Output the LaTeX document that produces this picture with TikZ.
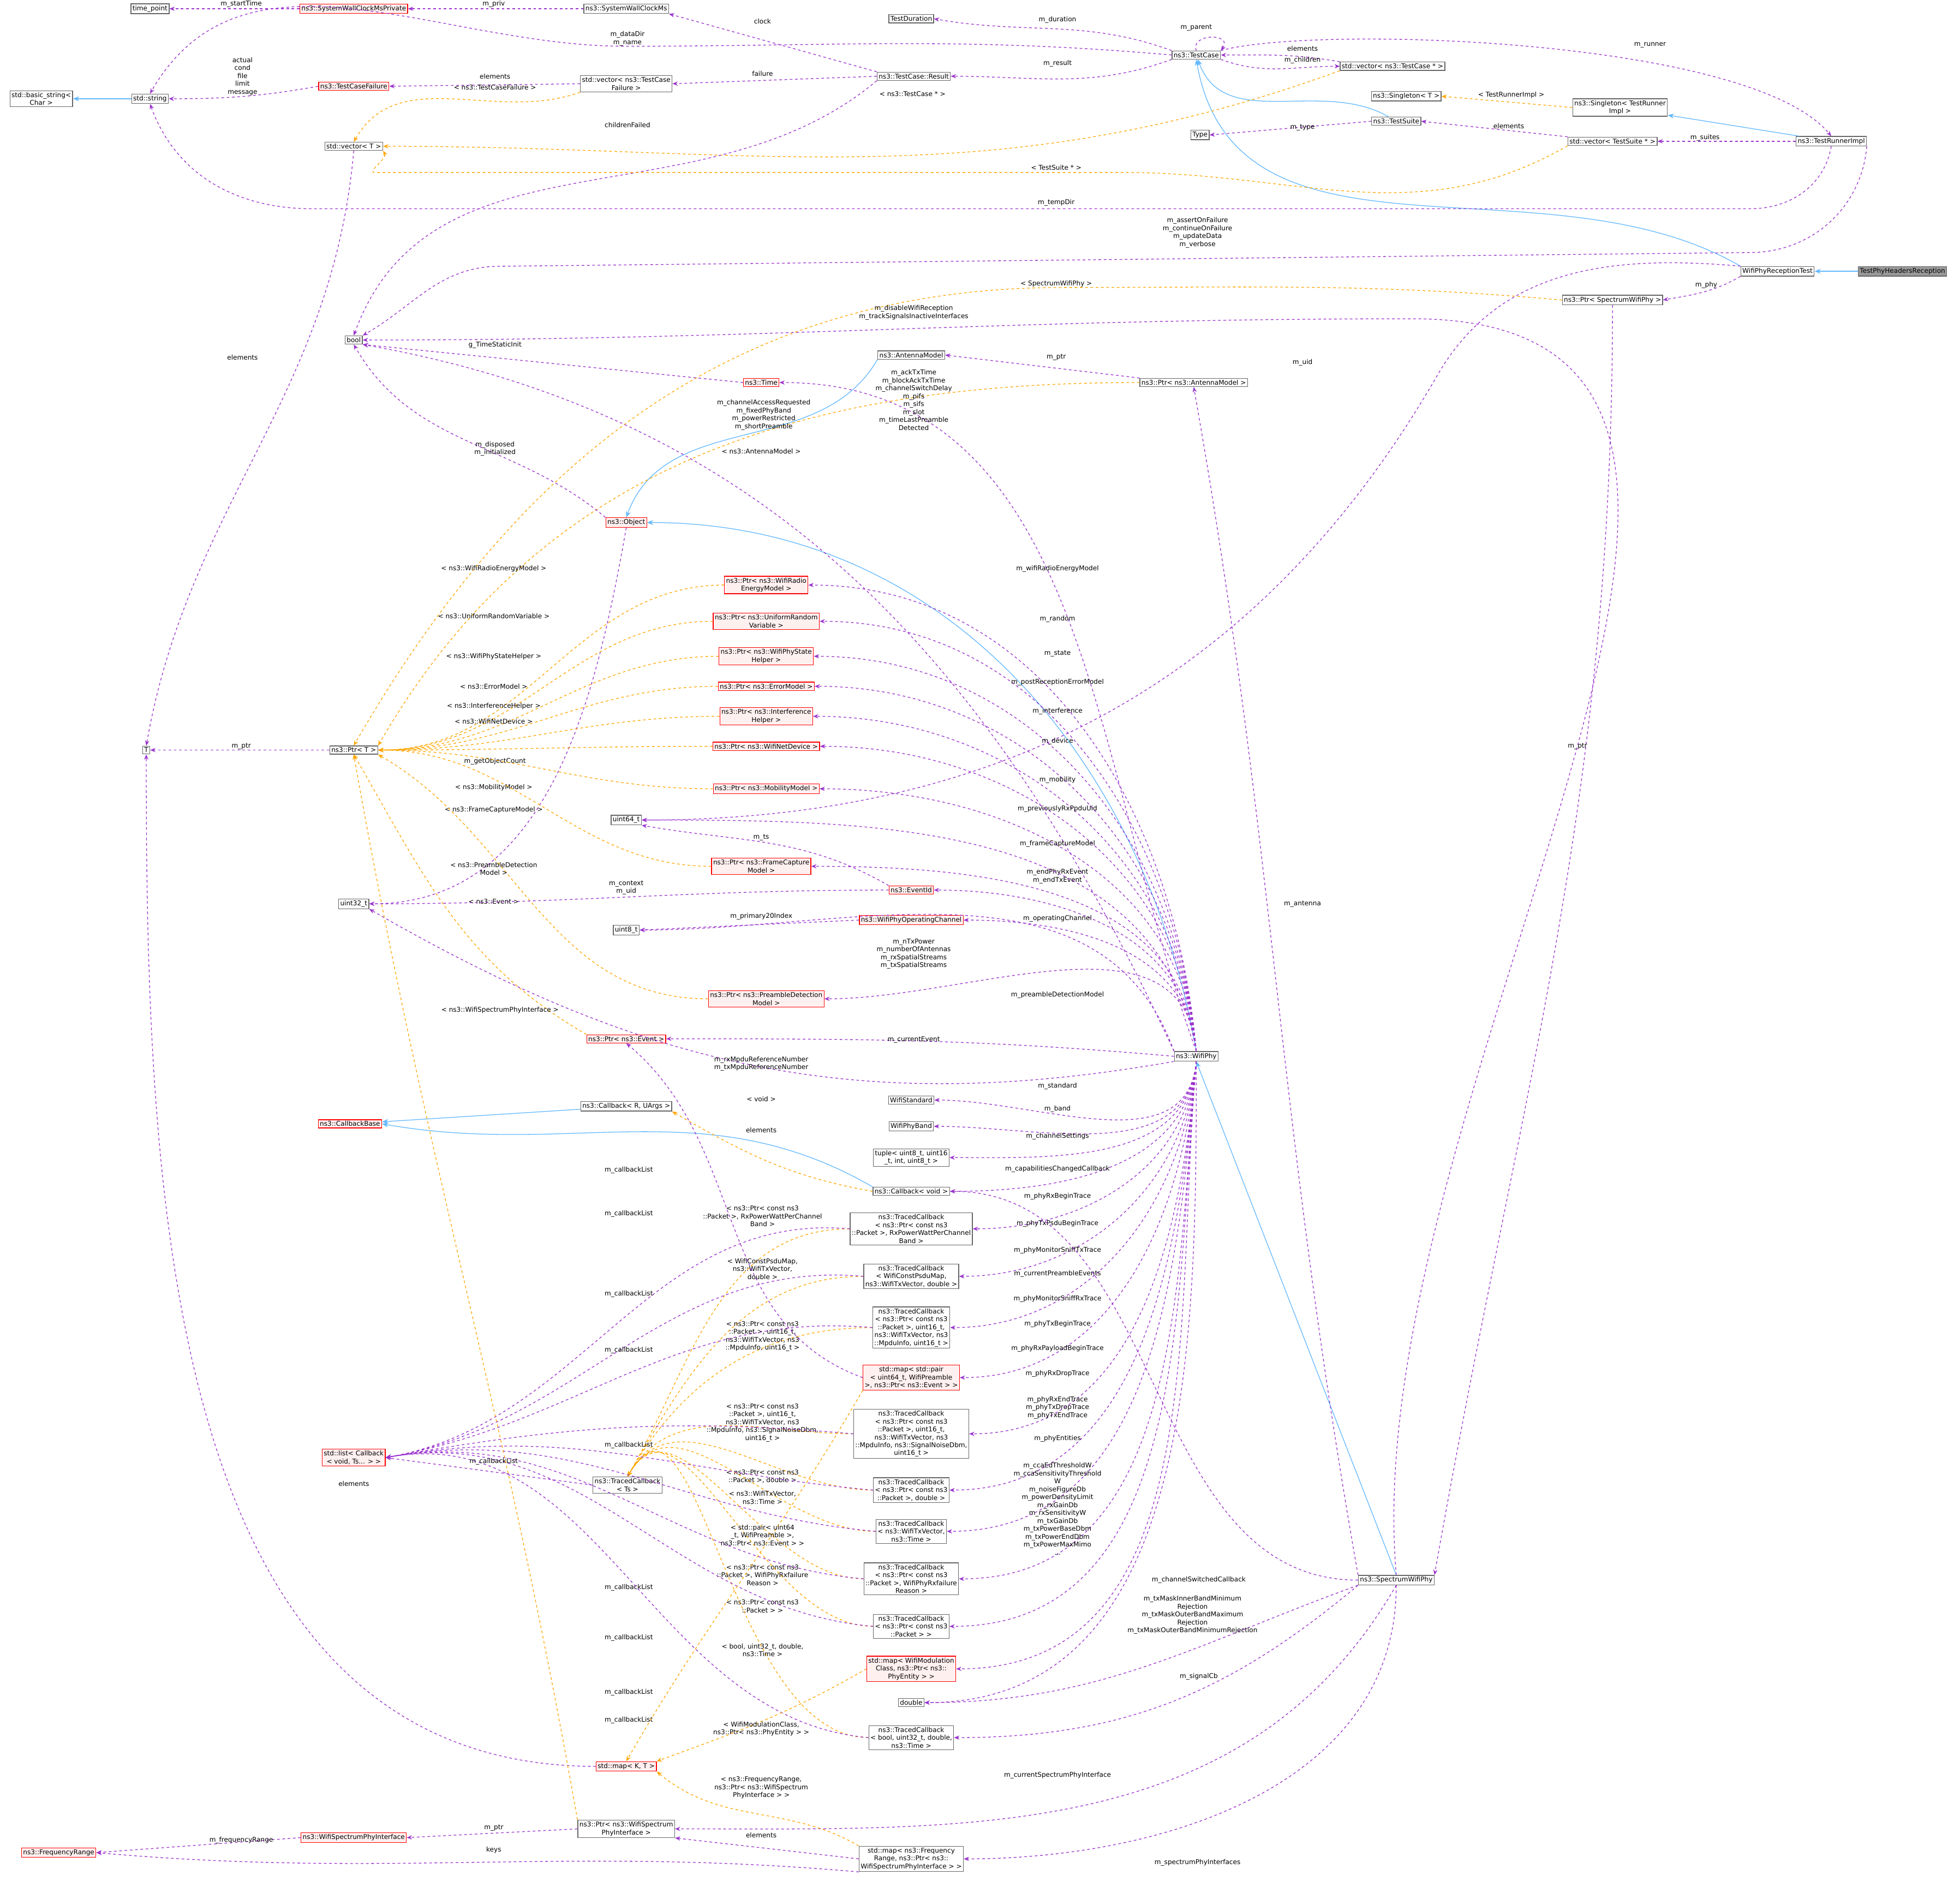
\documentclass[tikz,border=0pt]{standalone}
\usepackage{fontspec}
\setmainfont{DejaVu Sans}
\usetikzlibrary{arrows.meta,positioning}
\definecolor{edgepurple}{HTML}{9A32CD}
\definecolor{edgeorange}{HTML}{FFA500}
\definecolor{edgeblue}{HTML}{63B8FF}
\definecolor{redfill}{HTML}{FFF0F0}
\tikzset{
  cls/.style={draw=black!60, fill=white, align=center, inner sep=0.9pt, line width=0.4pt, font=\fontsize{3.75}{4.5}\selectfont},
  rcls/.style={cls, draw=red, fill=redfill},
  gcls/.style={cls, fill=black!40},
  pe/.style={edgepurple, dashed, dash pattern=on 1.5pt off 1.5pt, line width=0.4pt, -{Stealth[length=3pt,width=2.4pt]}},
  oe/.style={edgeorange, dashed, dash pattern=on 1.5pt off 1.5pt, line width=0.4pt, -{Stealth[length=3pt,width=2.4pt]}},
  be/.style={edgeblue, line width=0.4pt, -{Stealth[length=3.5pt,width=2.8pt]}},
  lbl/.style={align=center, inner sep=0pt, text=black, font=\fontsize{3.75}{4.5}\selectfont}
}
\begin{document}
\begin{tikzpicture}[x=0.025cm, y=-0.025cm]
  \useasboundingbox (0,0) rectangle (1568,1519);
  % Define nodes
  \node[cls] (timepoint) at (120,7) {time\_point};
  \node[rcls] (swcpriv) at (283,7) {ns3::SystemWallClockMsPrivate};
  \node[cls] (swc) at (501,7) {ns3::SystemWallClockMs};
  \node[cls] (duration) at (729,15) {TestDuration};
  \node[cls] (testcase) at (957,44) {ns3::TestCase};
  \node[cls] (vectc) at (1114,53) {std::vector< ns3::TestCase * >};
  \node[cls] (result) at (731,61) {ns3::TestCase::Result};
  \node[cls] (basicstr) at (33,79) {std::basic\_string<\\Char >};
  \node[cls] (string) at (120,79) {std::string};
  \node[rcls] (tcfail) at (283,69) {ns3::TestCaseFailure};
  \node[cls] (vectcf) at (501,67) {std::vector< ns3::TestCase\\Failure >};
  \node[cls] (vect) at (283,117) {std::vector< T >};
  \node[cls] (singt) at (1125,77) {ns3::Singleton< T >};
  \node[cls] (singtri) at (1296,86) {ns3::Singleton< TestRunner\\Impl >};
  \node[cls] (suite) at (1117,97) {ns3::TestSuite};
  \node[cls] (type) at (960,108) {Type};
  \node[cls] (vects) at (1290,113) {std::vector< TestSuite * >};
  \node[cls] (runner) at (1465,113) {ns3::TestRunnerImpl};
  \node[cls] (wprt) at (1422,217) {WifiPhyReceptionTest};
  \node[gcls] (tphr) at (1522,217) {TestPhyHeadersReception};
  \node[cls] (ptrswp) at (1290,240) {ns3::Ptr< SpectrumWifiPhy >};
  \node[cls] (bool) at (283,272) {bool};
  \node[cls] (antenna) at (729,284) {ns3::AntennaModel};
  \node[cls] (ptrant) at (955,306) {ns3::Ptr< ns3::AntennaModel >};
  \node[rcls] (time) at (609,306) {ns3::Time};
  \node[rcls] (object) at (501,418) {ns3::Object};
  \node[rcls] (ptrenergy) at (613,468) {ns3::Ptr< ns3::WifiRadio\\EnergyModel >};
  \node[rcls] (ptrrandom) at (613,497) {ns3::Ptr< ns3::UniformRandom\\Variable >};
  \node[rcls] (ptrstate) at (613,525) {ns3::Ptr< ns3::WifiPhyState\\Helper >};
  \node[rcls] (ptrerror) at (613,549) {ns3::Ptr< ns3::ErrorModel >};
  \node[rcls] (ptrinterf) at (613,573) {ns3::Ptr< ns3::Interference\\Helper >};
  \node[rcls] (ptrdevice) at (613,597) {ns3::Ptr< ns3::WifiNetDevice >};
  \node[rcls] (ptrmobility) at (613,631) {ns3::Ptr< ns3::MobilityModel >};
  \node[cls] (T) at (117,600) {T};
  \node[cls] (ptrt) at (283,600) {ns3::Ptr< T >};
  \node[cls] (uint64) at (501,656) {uint64\_t};
  \node[rcls] (ptrcapture) at (609,693) {ns3::Ptr< ns3::FrameCapture\\Model >};
  \node[rcls] (eventid) at (729,712) {ns3::EventId};
  \node[cls] (uint32) at (283,723) {uint32\_t};
  \node[cls] (uint8) at (501,744) {uint8\_t};
  \node[rcls] (opchan) at (729,736) {ns3::WifiPhyOperatingChannel};
  \node[rcls] (ptrpreamble) at (613,799) {ns3::Ptr< ns3::PreambleDetection\\Model >};
  \node[rcls] (ptrevent) at (501,831) {ns3::Ptr< ns3::Event >};
  \node[cls] (wifiphy) at (957,845) {ns3::WifiPhy};
  \node[rcls] (cbbase) at (280,899) {ns3::CallbackBase};
  \node[cls] (cbrargs) at (501,885) {ns3::Callback< R, UArgs >};
  \node[cls] (standard) at (729,880) {WifiStandard};
  \node[cls] (band) at (729,901) {WifiPhyBand};
  \node[cls] (tuple) at (729,926) {tuple< uint8\_t, uint16\\\_t, int, uint8\_t >};
  \node[cls] (cbvoid) at (729,953) {ns3::Callback< void >};
  \node[cls] (tcrxpower) at (729,983) {ns3::TracedCallback\\< ns3::Ptr< const ns3\\::Packet >, RxPowerWattPerChannel\\Band >};
  \node[cls] (tcpsdu) at (729,1021) {ns3::TracedCallback\\< WifiConstPsduMap,\\ns3::WifiTxVector, double >};
  \node[cls] (tcmpdu) at (729,1062) {ns3::TracedCallback\\< ns3::Ptr< const ns3\\::Packet >, uint16\_t,\\ns3::WifiTxVector, ns3\\::MpduInfo, uint16\_t >};
  \node[rcls] (mappair) at (729,1102) {std::map< std::pair\\< uint64\_t, WifiPreamble\\>, ns3::Ptr< ns3::Event > >};
  \node[cls] (tcsignal) at (729,1147) {ns3::TracedCallback\\< ns3::Ptr< const ns3\\::Packet >, uint16\_t,\\ns3::WifiTxVector, ns3\\::MpduInfo, ns3::SignalNoiseDbm,\\uint16\_t >};
  \node[rcls] (cblist) at (283,1166) {std::list< Callback\\< void, Ts... > >};
  \node[cls] (tcts) at (502,1188) {ns3::TracedCallback\\< Ts >};
  \node[cls] (tcpktdbl) at (729,1192) {ns3::TracedCallback\\< ns3::Ptr< const ns3\\::Packet >, double >};
  \node[cls] (tctxvec) at (729,1225) {ns3::TracedCallback\\< ns3::WifiTxVector,\\ns3::Time >};
  \node[cls] (swp) at (1117,1264) {ns3::SpectrumWifiPhy};
  \node[cls] (tcrxfail) at (729,1263) {ns3::TracedCallback\\< ns3::Ptr< const ns3\\::Packet >, WifiPhyRxfailure\\Reason >};
  \node[cls] (tcpkt) at (729,1301) {ns3::TracedCallback\\< ns3::Ptr< const ns3\\::Packet > >};
  \node[rcls] (mapmod) at (729,1335) {std::map< WifiModulation\\Class, ns3::Ptr< ns3::\\PhyEntity > >};
  \node[cls] (double) at (729,1362) {double};
  \node[cls] (tcbool) at (729,1390) {ns3::TracedCallback\\< bool, uint32\_t, double,\\ns3::Time >};
  \node[rcls] (mapkt) at (501,1413) {std::map< K, T >};
  \node[cls] (ptrwspi) at (501,1463) {ns3::Ptr< ns3::WifiSpectrum\\PhyInterface >};
  \node[rcls] (wspi) at (283,1470) {ns3::WifiSpectrumPhyInterface};
  \node[rcls] (freqrange) at (47,1482) {ns3::FrequencyRange};
  \node[cls] (mapfreq) at (729,1487) {std::map< ns3::Frequency\\Range, ns3::Ptr< ns3::\\WifiSpectrumPhyInterface > >};

  % Inheritance
  \draw[be] (string) -- (basicstr);
  \draw[be] (runner) -- (singtri);
  \draw[be] (suite) to[out=150,in=-70] (testcase);
  \draw[be] (wprt.north west) to[out=150,in=-80] (testcase.south);
  \draw[be] (tphr) -- (wprt);
  \draw[be] (antenna.south west) to[out=-120,in=70] (object.north);
  \draw[be] (wifiphy.north) to[out=100,in=0] (object.east);
  \draw[be] (swp.north) -- (wifiphy.south);
  \draw[be] (cbrargs) -- (cbbase);
  \draw[be] (cbvoid.north west) to[out=150,in=-10] (cbbase.east);

  % Test framework members
  \draw[pe] (swcpriv) -- (timepoint);
  \node[lbl] at (193,3) {m\_startTime};
  \draw[pe] (swc) -- (swcpriv);
  \node[lbl] at (395,3) {m\_priv};
  \draw[pe] (result.north west) -- (swc.south east);
  \node[lbl] at (610,17) {clock};
  \draw[pe] (testcase.north west) to[out=160,in=-10] (duration.east);
  \node[lbl] at (846,16) {m\_duration};
  \draw[pe] (testcase.north) .. controls +(-5,-14) and +(10,-14) .. (testcase.north east);
  \node[lbl] at (957,22) {m\_parent};
  \draw[pe] (testcase.west) to[out=175,in=0] (500,37) to[out=180,in=60] (string.north);
  \node[lbl] at (502,31) {m\_dataDir\\m\_name};
  \draw[pe] (testcase.south west) to[out=-160,in=0] (result.east);
  \node[lbl] at (846,51) {m\_result};
  \draw[pe] (testcase.south east) to[out=-20,in=180] (vectc.west);
  \draw[pe] (vectc.north west) to[out=170,in=0] (testcase.east);
  \node[lbl] at (1042,39) {elements};
  \node[lbl] at (1042,48) {m\_children};
  \draw[pe] (testcase.north east) .. controls (1050,20) and (1400,30) .. (runner.north);
  \node[lbl] at (1320,36) {m\_runner};
  \draw[oe] (vectc.south west) to[out=-160,in=0] (vect.east);
  \node[lbl] at (730,75) {< ns3::TestCase * >};
  \draw[pe] (result.west) -- (vectcf.east);
  \node[lbl] at (610,59) {failure};
  \draw[pe] (result.south west) to[out=-140,in=70] (bool.north);
  \node[lbl] at (502,100) {childrenFailed};
  \draw[pe] (vectcf.west) -- (tcfail.east);
  \node[lbl] at (396,61) {elements};
  \node[lbl] at (396,70) {< ns3::TestCaseFailure >};
  \draw[oe] (vectcf.south west) to[out=-160,in=60] (vect.north);
  \draw[pe] (tcfail.west) to[out=-170,in=0] (string.east);
  \node[lbl] at (194,61) {actual\\cond\\file\\limit\\message};
  \draw[pe] (vect.south) to[out=-95,in=80] (T.north);
  \node[lbl] at (194,286) {elements};
  \draw[oe] (singtri.west) -- (singt.east);
  \node[lbl] at (1209,76) {< TestRunnerImpl >};
  \draw[pe] (runner) -- (vects);
  \node[lbl] at (1364,110) {m\_suites};
  \draw[pe] (vects.north west) -- (suite.east);
  \node[lbl] at (1207,101) {elements};
  \draw[oe] (vects.south west) to[out=-150,in=0] (900,138) -- (300,138) to[out=180,in=-60] (vect.south east);
  \node[lbl] at (845,134) {< TestSuite * >};
  \draw[pe] (suite.west) -- (type.east);
  \node[lbl] at (1042,102) {m\_type};
  \draw[pe] (runner.south) to[out=-100,in=0] (1400,167) -- (250,167) to[out=180,in=-70] (string.south);
  \node[lbl] at (845,162) {m\_tempDir};
  \draw[pe] (runner.south east) to[out=-95,in=0] (1400,202) -- (400,213) to[out=180,in=30] (bool.north east);
  \node[lbl] at (958,186) {m\_assertOnFailure\\m\_continueOnFailure\\m\_updateData\\m\_verbose};

  % WifiPhyReceptionTest
  \draw[pe] (wprt.south west) to[out=-150,in=10] (ptrswp.east);
  \node[lbl] at (1365,228) {m\_phy};
  \draw[pe] (wprt.north west) to[out=175,in=60] (1150,300) to[out=240,in=0] (uint64.east);
  \node[lbl] at (1042,290) {m\_uid};
  \draw[oe] (ptrswp.west) to[out=175,in=0] (850,230) to[out=180,in=60] (ptrt.north);
  \node[lbl] at (845,227) {< SpectrumWifiPhy >};
  \draw[pe] (ptrswp.south) to[out=-90,in=80] (swp.north east);
  \node[lbl] at (1262,597) {m\_ptr};
  \draw[pe] (swp.north) to[out=95,in=0] (1130,255) to[out=180,in=0] (bool.east);
  \node[lbl] at (731,250) {m\_disableWifiReception\\m\_trackSignalsInactiveInterfaces};
  \draw[pe] (swp.north west) to[out=100,in=-80] (ptrant.south);
  \node[lbl] at (1042,723) {m\_antenna};
  \draw[pe] (ptrant.north west) -- (antenna.east);
  \node[lbl] at (845,286) {m\_ptr};
  \draw[oe] (ptrant.west) to[out=180,in=60] (ptrt.north east);
  \node[lbl] at (609,361) {< ns3::AntennaModel >};
  \draw[pe] (time.west) -- (bool.south east);
  \node[lbl] at (396,276) {g\_TimeStaticInit};
  \draw[pe] (wifiphy.north) to[out=110,in=0] (time.east);
  \node[lbl] at (731,320) {m\_ackTxTime\\m\_blockAckTxTime\\m\_channelSwitchDelay\\m\_pifs\\m\_sifs\\m\_slot\\m\_timeLastPreamble\\Detected};
  \draw[pe] (wifiphy.north west) to[out=115,in=-10] (bool.south east);
  \node[lbl] at (611,332) {m\_channelAccessRequested\\m\_fixedPhyBand\\m\_powerRestricted\\m\_shortPreamble};
  \draw[pe] (object.north west) to[out=140,in=-60] (bool.south);
  \node[lbl] at (396,359) {m\_disposed\\m\_initialized};
  \draw[pe] (object.south) to[out=-100,in=0] (uint32.east);
  \node[lbl] at (396,609) {m\_getObjectCount};

  % Ptr members of WifiPhy
  \foreach \p/\lab/\y in {ptrenergy/m\_wifiRadioEnergyModel/455, ptrrandom/m\_random/495,
      ptrstate/m\_state/523, ptrerror/m\_postReceptionErrorModel/546,
      ptrinterf/m\_interference/569, ptrdevice/m\_device/593,
      ptrmobility/m\_mobility/624, ptrcapture/m\_frameCaptureModel/675,
      eventid/m\_endPhyRxEvent\\m\_endTxEvent/701, opchan/m\_operatingChannel/735,
      ptrpreamble/m\_preambleDetectionModel/796}
  {
    \draw[pe] (wifiphy.north) to[out=95,in=0] (\p.east);
    \node[lbl] at (846,\y) {\lab};
  }
  \foreach \p/\lab/\y in {ptrenergy/< ns3::WifiRadioEnergyModel >/455,
      ptrrandom/< ns3::UniformRandomVariable >/493,
      ptrstate/< ns3::WifiPhyStateHelper >/525,
      ptrerror/< ns3::ErrorModel >/549,
      ptrinterf/< ns3::InterferenceHelper >/565,
      ptrdevice/< ns3::WifiNetDevice >/577,
      ptrmobility/< ns3::MobilityModel >/630,
      ptrcapture/< ns3::FrameCaptureModel >/648}
  {
    \draw[oe] (\p.west) to[out=180,in=0] (ptrt.east);
    \node[lbl] at (395,\y) {\lab};
  }
  \draw[oe] (ptrpreamble.west) to[out=180,in=-30] (ptrt.south east);
  \node[lbl] at (395,695) {< ns3::PreambleDetection\\Model >};
  \draw[oe] (ptrevent.north west) to[out=150,in=-60] (ptrt.south);
  \node[lbl] at (395,721) {< ns3::Event >};
  \draw[pe] (ptrt.west) -- (T.east);
  \node[lbl] at (193,597) {m\_ptr};
  \draw[pe] (wifiphy.north) to[out=100,in=0] (uint64.east);
  \node[lbl] at (846,647) {m\_previouslyRxPpduUid};
  \draw[pe] (eventid.north west) to[out=150,in=-10] (uint64.south east);
  \node[lbl] at (609,670) {m\_ts};
  \draw[pe] (eventid.west) to[out=180,in=0] (uint32.east);
  \node[lbl] at (501,710) {m\_context\\m\_uid};
  \draw[pe] (opchan.west) -- (uint8.east);
  \node[lbl] at (609,733) {m\_primary20Index};
  \draw[pe] (wifiphy.north west) to[out=110,in=0] (uint8.east);
  \node[lbl] at (731,763) {m\_nTxPower\\m\_numberOfAntennas\\m\_rxSpatialStreams\\m\_txSpatialStreams};
  \draw[pe] (wifiphy.west) to[out=175,in=0] (ptrevent.east);
  \node[lbl] at (731,832) {m\_currentEvent};
  \draw[pe] (wifiphy.south west) to[out=-170,in=-30] (uint32.south east);
  \node[lbl] at (609,851) {m\_rxMpduReferenceNumber\\m\_txMpduReferenceNumber};

  % Callbacks and traces
  \draw[oe] (cbvoid.west) to[out=170,in=-30] (cbrargs.south east);
  \node[lbl] at (609,879) {< void >};
  \foreach \p/\lab/\y in {standard/m\_standard/869, band/m\_band/887,
      tuple/m\_channelSettings/909, cbvoid/m\_capabilitiesChangedCallback/935,
      tcrxpower/m\_phyRxBeginTrace/957, tcpsdu/m\_phyTxPsduBeginTrace/979,
      tcmpdu/m\_phyMonitorSniffTxTrace/1000, mappair/m\_currentPreambleEvents/1019,
      tcsignal/m\_phyMonitorSniffRxTrace/1039, tcpktdbl/m\_phyTxBeginTrace/1059,
      tctxvec/m\_phyRxPayloadBeginTrace/1079, tcrxfail/m\_phyRxDropTrace/1099,
      tcpkt/m\_phyRxEndTrace\\m\_phyTxDropTrace\\m\_phyTxEndTrace/1126,
      mapmod/m\_phyEntities/1151}
  {
    \draw[pe] (wifiphy.south) to[out=-95,in=0] (\p.east);
    \node[lbl] at (846,\y) {\lab};
  }
  \draw[pe] (wifiphy.south) to[out=-90,in=0] (double.east);
  \node[lbl] at (846,1207) {m\_ccaEdThresholdW\\m\_ccaSensitivityThreshold\\W\\m\_noiseFigureDb\\m\_powerDensityLimit\\m\_rxGainDb\\m\_rxSensitivityW\\m\_txGainDb\\m\_txPowerBaseDbm\\m\_txPowerEndDbm\\m\_txPowerMaxMimo\\...};
  \foreach \p/\lab/\y in {tcrxpower/{< ns3::Ptr< const ns3\\::Packet >, RxPowerWattPerChannel\\Band >}/973,
      tcpsdu/{< WifiConstPsduMap,\\ns3::WifiTxVector,\\double >}/1015,
      tcmpdu/{< ns3::Ptr< const ns3\\::Packet >, uint16\_t,\\ns3::WifiTxVector, ns3\\::MpduInfo, uint16\_t >}/1069,
      tcsignal/{< ns3::Ptr< const ns3\\::Packet >, uint16\_t,\\ns3::WifiTxVector, ns3\\::MpduInfo, ns3::SignalNoiseDbm,\\uint16\_t >}/1138,
      tcpktdbl/{< ns3::Ptr< const ns3\\::Packet >, double >}/1181,
      tctxvec/{< ns3::WifiTxVector,\\ns3::Time >}/1198,
      tcrxfail/{< ns3::Ptr< const ns3\\::Packet >, WifiPhyRxfailure\\Reason >}/1260,
      tcpkt/{< ns3::Ptr< const ns3\\::Packet > >}/1285,
      tcbool/{< bool, uint32\_t, double,\\ns3::Time >}/1320}
  {
    \draw[oe] (\p.west) to[out=180,in=60] (tcts.north);
    \node[lbl] at (610,\y) {\lab};
  }
  \foreach \p/\y in {tcrxpower/936, tcpsdu/971, tcmpdu/1035, tcsignal/1080,
      tcpktdbl/1156, tctxvec/1270, tcrxfail/1310, tcpkt/1354, tcbool/1376}
  {
    \draw[pe] (\p.west) to[out=175,in=10] (cblist.east);
    \node[lbl] at (503,\y) {m\_callbackList};
  }
  \draw[pe] (tcts.west) -- (cblist.east);
  \node[lbl] at (395,1169) {m\_callbackList};
  \draw[pe] (mappair.west) to[out=160,in=-40] (ptrevent.south);
  \node[lbl] at (609,904) {elements};
  \draw[oe] (mappair.south west) to[out=-120,in=60] (mapkt.north);
  \node[lbl] at (610,1228) {< std::pair< uint64\\\_t, WifiPreamble >,\\ns3::Ptr< ns3::Event > >};
  \draw[oe] (mapmod.west) to[out=-150,in=20] (mapkt.north east);
  \node[lbl] at (609,1383) {< WifiModulationClass,\\ns3::Ptr< ns3::PhyEntity > >};
  \draw[pe] (mapkt.west) to[out=180,in=-90] (T.south);
  \node[lbl] at (283,1187) {elements};

  % SpectrumWifiPhy members
  \draw[pe] (swp.west) to[out=180,in=0] (cbvoid.east);
  \node[lbl] at (959,1264) {m\_channelSwitchedCallback};
  \draw[pe] (swp.south west) to[out=-160,in=0] (double.east);
  \node[lbl] at (954,1292) {m\_txMaskInnerBandMinimum\\Rejection\\m\_txMaskOuterBandMaximum\\Rejection\\m\_txMaskOuterBandMinimumRejection};
  \draw[pe] (swp.south west) to[out=-140,in=0] (tcbool.east);
  \node[lbl] at (959,1341) {m\_signalCb};
  \draw[pe] (swp.south) to[out=-120,in=0] (ptrwspi.east);
  \node[lbl] at (846,1420) {m\_currentSpectrumPhyInterface};
  \draw[pe] (swp.south) to[out=-90,in=0] (mapfreq.east);
  \node[lbl] at (958,1490) {m\_spectrumPhyInterfaces};
  \draw[oe] (ptrwspi.north west) to[out=100,in=-80] (ptrt.south);
  \node[lbl] at (400,808) {< ns3::WifiSpectrumPhyInterface >};
  \draw[pe] (ptrwspi.west) -- (wspi.east);
  \node[lbl] at (395,1462) {m\_ptr};
  \draw[pe] (wspi.west) -- (freqrange.east);
  \node[lbl] at (193,1472) {m\_frequencyRange};
  \draw[pe] (mapfreq.west) -- (ptrwspi.south east);
  \node[lbl] at (609,1468) {elements};
  \draw[pe] (mapfreq.south west) to[out=175,in=-5] (freqrange.east);
  \node[lbl] at (395,1480) {keys};
  \draw[oe] (mapfreq.north west) to[out=150,in=-40] (mapkt.south east);
  \node[lbl] at (609,1430) {< ns3::FrequencyRange,\\ns3::Ptr< ns3::WifiSpectrum\\PhyInterface > >};
\end{tikzpicture}
\end{document}
